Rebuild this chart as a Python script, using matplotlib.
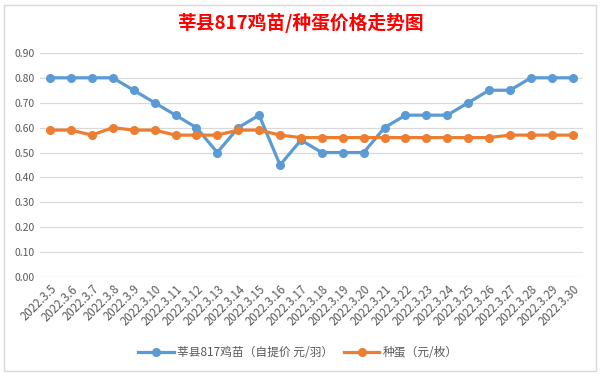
import matplotlib
matplotlib.use("Agg")
import matplotlib.pyplot as plt
from matplotlib.patches import Rectangle

plt.rcParams['font.family'] = ['Noto Sans CJK SC', 'DejaVu Sans']

# 日期
dates = ['2022.3.%d' % d for d in range(5, 31)]

# 鸡苗价格 (自提价 元/羽)
chick = [0.80, 0.80, 0.80, 0.80, 0.75, 0.70, 0.65, 0.60, 0.50, 0.60,
         0.65, 0.45, 0.55, 0.50, 0.50, 0.50, 0.60, 0.65, 0.65, 0.65,
         0.70, 0.75, 0.75, 0.80, 0.80, 0.80]

# 种蛋价格 (元/枚)
egg = [0.59, 0.59, 0.57, 0.60, 0.59, 0.59, 0.57, 0.57, 0.57, 0.59,
       0.59, 0.57, 0.56, 0.56, 0.56, 0.56, 0.56, 0.56, 0.56, 0.56,
       0.56, 0.56, 0.57, 0.57, 0.57, 0.57]

yticks = [0.0, 0.1, 0.2, 0.3, 0.4, 0.5, 0.6, 0.7, 0.8, 0.9]

fig = plt.figure(figsize=(6, 3.75), dpi=100)
ax = fig.add_axes([0.066, 0.261, 0.906, 0.598])

x = list(range(len(dates)))
ax.plot(x, chick, '-o', color='#5B9BD5', lw=2.3, ms=5.5,
        label='莘县817鸡苗（自提价 元/羽）')
ax.plot(x, egg, '-o', color='#ED7D31', lw=2.3, ms=5.5,
        label='种蛋（元/枚）')

ax.set_xlim(-0.5, len(dates) - 0.5)
ax.set_ylim(0, 0.9)
ax.set_yticks(yticks)
ax.set_yticklabels(['%.2f' % v for v in yticks])
ax.set_xticks(x)
ax.set_xticklabels(dates, rotation=45, ha='right', rotation_mode='anchor')
ax.tick_params(axis='both', length=0, labelcolor='#595959')
ax.tick_params(axis='y', labelsize=7.5)
ax.tick_params(axis='x', labelsize=8.3, pad=4)
ax.grid(axis='y', color='#D9D9D9', lw=0.9)
ax.set_axisbelow(True)
for s in ax.spines.values():
    s.set_visible(False)

fig.text(0.5, 0.94, '莘县817鸡苗/种蛋价格走势图', ha='center', va='center',
         color='#FF0000', fontsize=13.5, fontweight='bold')

fig.legend(loc='center', bbox_to_anchor=(0.497, 0.06), ncol=2, frameon=False,
           fontsize=8.5, labelcolor='#595959', handlelength=3.0,
           columnspacing=0.9, handletextpad=0.3)

fig.patches.append(Rectangle((0.006, 0.012), 0.988, 0.976, transform=fig.transFigure,
                             fill=False, ec='#D9D9D9', lw=1))

fig.savefig('out.png', dpi=100)
